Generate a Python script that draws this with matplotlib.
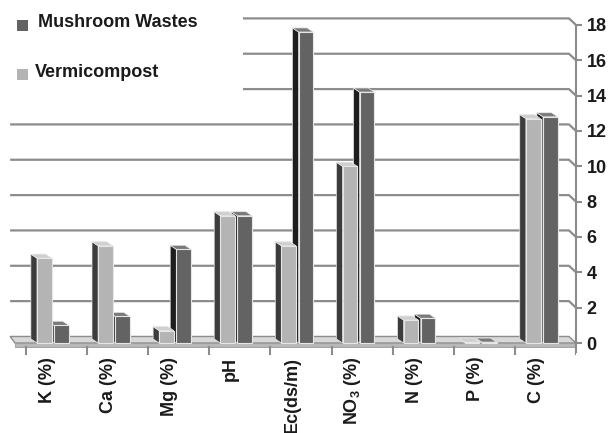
import matplotlib.pyplot as plt
from matplotlib.patches import Polygon, Rectangle

# chart data
categories = ['K (%)', 'Ca (%)', 'Mg (%)', 'pH', 'Ec(ds/m)',
              r'NO$_\mathbf{3}$ (%)', 'N (%)', 'P (%)', 'C (%)']
vermicompost = [4.8, 5.5, 0.7, 7.2, 5.5, 10.0, 1.3, 0.05, 12.7]
mushroom_wastes = [1.0, 1.5, 5.3, 7.2, 17.6, 14.2, 1.4, 0.05, 12.8]
yticks = [0, 2, 4, 6, 8, 10, 12, 14, 16, 18]

W, H = 614, 433
# pixel mapping of data space (category units / value units)
X0, XS = 26, 61.11
Y0, YS = 343, 17.67
XMIN, XMAX = -0.3, 9.0
YMIN, YMAX = -0.8, 18.6

# 3D look offsets
WALL_DX, WALL_DY = -0.115, 0.37
BAR_DX, BAR_DY = -0.1, 0.23
BAR_W = 0.24

plt.rcParams['font.family'] = ['Liberation Sans', 'DejaVu Sans']
plt.rcParams['mathtext.fontset'] = 'custom'
plt.rcParams['mathtext.bf'] = 'Liberation Sans:bold'
plt.rcParams['mathtext.rm'] = 'Liberation Sans:bold'

fig = plt.figure(figsize=(W / 100, H / 100), dpi=100)
left = X0 + XS * XMIN
right = X0 + XS * XMAX
top = Y0 - YS * YMAX
bottom = Y0 - YS * YMIN
ax = fig.add_axes([left / W, (H - bottom) / H, (right - left) / W, (bottom - top) / H])
ax.set_xlim(XMIN, XMAX)
ax.set_ylim(YMIN, YMAX)

grid_col = '#8c8c8c'

# back wall gridlines + diagonals to the right axis
for v in yticks[1:]:
    ax.plot([-0.26, 9 + WALL_DX, 9], [v + WALL_DY, v + WALL_DY, v],
            color=grid_col, lw=1.6, zorder=1, solid_capstyle='butt')

# floor
floor = Polygon([(-0.18, 0), (9, 0), (9 + WALL_DX, WALL_DY), (-0.26, WALL_DY)],
                closed=True, facecolor='#d8d8d8', edgecolor='#8c8c8c', lw=1.0, zorder=2)
ax.add_patch(floor)
ax.add_patch(Rectangle((-0.18, -0.2), 9.18, 0.2, facecolor='#b8b8b8',
                       edgecolor='#9a9a9a', lw=0.6, zorder=2))
# category ticks
for i in range(len(categories) + 1):
    ax.plot([i, i], [-0.2, -0.65], color=grid_col, lw=1.5, zorder=2)

# legend background covers the wall lines
ax.add_patch(Rectangle((XMIN, 13.2), 3.85, YMAX - 13.2, facecolor='white',
                       edgecolor='none', zorder=3))


def draw_bar(x, h, front, side, topc, z):
    ax.add_patch(Polygon([(x, 0), (x, h), (x + BAR_DX, h + BAR_DY), (x + BAR_DX, BAR_DY)],
                         closed=True, facecolor=side, edgecolor='#e6e6e6', lw=0.5, zorder=z))
    ax.add_patch(Polygon([(x, h), (x + BAR_W, h), (x + BAR_W + BAR_DX, h + BAR_DY),
                          (x + BAR_DX, h + BAR_DY)],
                         closed=True, facecolor=topc, edgecolor='#e6e6e6', lw=0.5, zorder=z))
    ax.bar(x, h, BAR_W, align='edge', color=front, edgecolor='#e6e6e6', lw=0.8, zorder=z)


z = 4
for i in range(len(categories)):
    draw_bar(i + 0.46, mushroom_wastes[i], '#636363', '#1e1e1e', '#7a7a7a', z)
    draw_bar(i + 0.18, vermicompost[i], '#b4b4b4', '#3c3c3c', '#cfcfcf', z + 1)
    z += 2

# category labels
for i, lab in enumerate(categories):
    ax.text(i + 0.35, -0.78, lab, rotation=90, ha='center', va='top',
            fontsize=13, fontweight='bold', color='#1a1a1a')

# right value axis
for s in ['left', 'top', 'bottom']:
    ax.spines[s].set_visible(False)
ax.spines['right'].set_color(grid_col)
ax.spines['right'].set_linewidth(1.5)
ax.spines['right'].set_bounds(-0.5, 18)
ax.yaxis.tick_right()
ax.set_yticks(yticks)
ax.tick_params(axis='y', direction='out', length=4.5, width=1.5, color=grid_col,
               labelsize=13, pad=3, labelcolor='#1a1a1a')
for t in ax.get_yticklabels():
    t.set_fontweight('bold')
ax.set_xticks([])
ax.patch.set_visible(False)

# legend
fig.patches.append(Rectangle((17 / W, 1 - 31 / H), 11 / W, 11 / H, transform=fig.transFigure,
                             facecolor='#636363', edgecolor='none', figure=fig))
fig.text(38 / W, 1 - 27 / H, 'Mushroom Wastes', fontsize=13, fontweight='bold',
         va='baseline', color='#1a1a1a')
fig.patches.append(Rectangle((17 / W, 1 - 80 / H), 11 / W, 11 / H, transform=fig.transFigure,
                             facecolor='#b4b4b4', edgecolor='none', figure=fig))
fig.text(35 / W, 1 - 77 / H, 'Vermicompost', fontsize=13, fontweight='bold',
         va='baseline', color='#1a1a1a')

fig.savefig('out.png', dpi=100)
